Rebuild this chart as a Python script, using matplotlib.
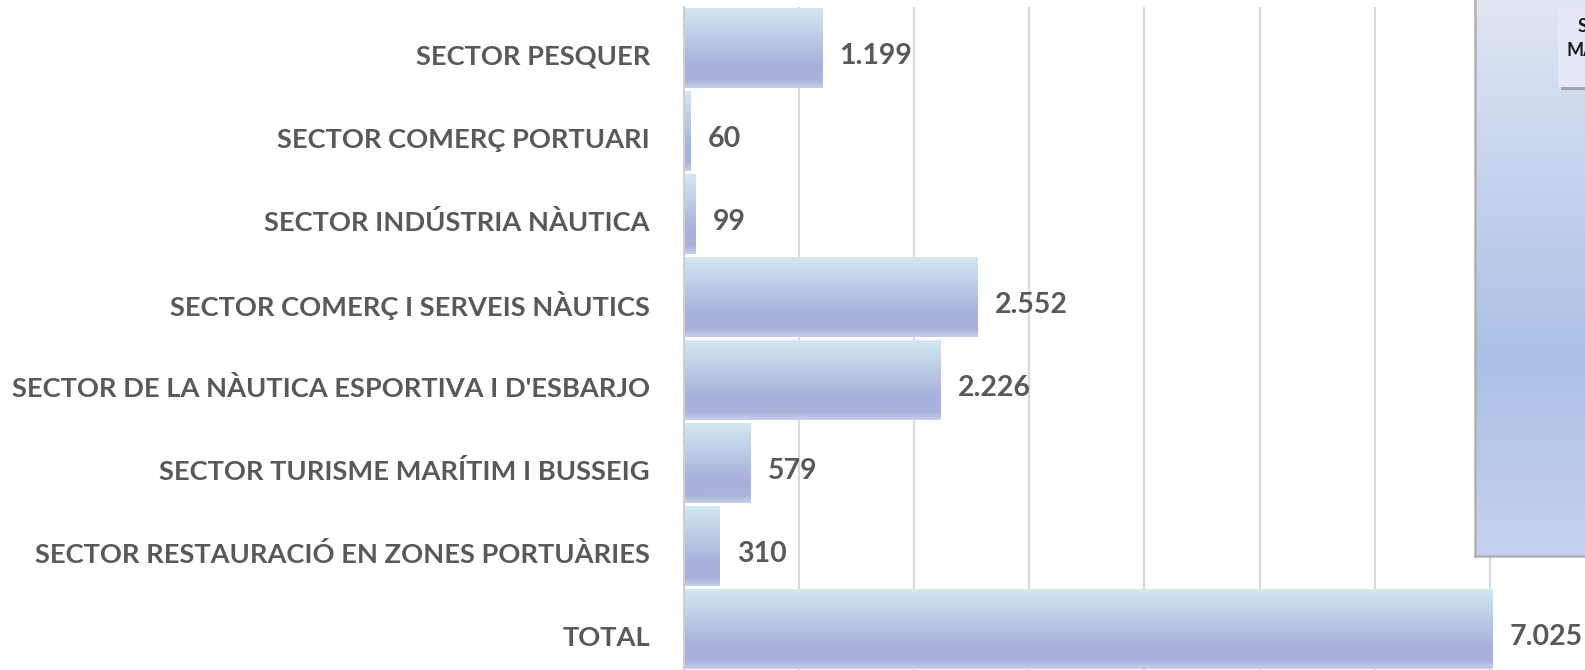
import numpy as np
import matplotlib
matplotlib.use("Agg")
from matplotlib import pyplot as plt
from matplotlib.colors import LinearSegmentedColormap
from matplotlib.patches import Rectangle
from matplotlib.transforms import ScaledTranslation

categories = [
    "SECTOR PESQUER",
    "SECTOR COMERÇ PORTUARI",
    "SECTOR INDÚSTRIA NÀUTICA",
    "SECTOR COMERÇ I SERVEIS NÀUTICS",
    "SECTOR DE LA NÀUTICA ESPORTIVA I D'ESBARJO",
    "SECTOR TURISME MARÍTIM I BUSSEIG",
    "SECTOR RESTAURACIÓ EN ZONES PORTUÀRIES",
    "TOTAL",
]
values = [1199, 60, 99, 2552, 2226, 579, 310, 7025]
value_labels = ["1.199", "60", "99", "2.552", "2.226", "579", "310", "7.025"]

text_color = "#595959"
font = "Lato"

bar_cmap = LinearSegmentedColormap.from_list(
    "bar", [(0, "#d3e9ef"), (0.72, "#a8b0dc"), (0.9, "#aab2dc"), (1, "#c8cfea")])
panel_cmap = LinearSegmentedColormap.from_list(
    "panel", [(0, "#dfe6f3"), (0.65, "#abbfe6"), (1, "#c6d1ef")])


def main():
    fig = plt.figure(figsize=(15.85, 6.70), dpi=100)
    ax = fig.add_axes([684 / 1585, 0, 901 / 1585, 663.5 / 670])

    y = np.arange(len(categories))
    bars = ax.barh(y, values, height=0.965, color="none", zorder=2)
    ax.set_ylim(len(categories) - 0.5, -0.5)
    ax.set_xlim(0, 901 / 115.1 * 1000)

    # gradient fill clipped to each bar
    grad = np.linspace(0, 1, 256).reshape(-1, 1)
    for b in bars:
        x0, y0 = b.get_x(), b.get_y()
        w, h = b.get_width(), b.get_height()
        im = ax.imshow(grad, cmap=bar_cmap, aspect="auto",
                       extent=(x0, x0 + w, y0 + h, y0), zorder=2)
        im.set_clip_path(b)

    for i, (v, lab) in enumerate(zip(values, value_labels)):
        ax.text(v + 150, i + 0.1, lab, ha="left", va="center",
                fontsize=20.5, fontweight="bold", color=text_color,
                family=font, zorder=4)

    ax.set_xticks(np.arange(0, 8000, 1000))
    ax.xaxis.grid(True, color="#d9d9d9", linewidth=1.5, zorder=0)
    ax.set_axisbelow(True)
    ax.tick_params(left=False, bottom=False, labelbottom=False)
    ax.set_yticks(y)
    ax.set_yticklabels(categories, fontsize=19.6, fontweight="bold",
                       color=text_color, family=font)
    ax.tick_params(axis="y", pad=21)
    # category labels sit a little below the bar centre
    shift = ScaledTranslation(0, -0.07, fig.dpi_scale_trans)
    for lbl in ax.get_yticklabels():
        lbl.set_transform(lbl.get_transform() + shift)
    for s in ["top", "right", "bottom"]:
        ax.spines[s].set_visible(False)
    ax.spines["left"].set_color("#d0d0d0")
    ax.spines["left"].set_linewidth(1.5)

    # side panel (cut off at the right edge)
    pax = fig.add_axes([1475 / 1585, 1 - 556 / 670, 120 / 1585, 556 / 670])
    pax.imshow(grad, cmap=panel_cmap, aspect="auto", extent=(0, 1, 0, 1))
    pax.set_xlim(0, 1)
    pax.set_ylim(0, 1)
    pax.set_xticks([])
    pax.set_yticks([])
    pax.spines["top"].set_visible(False)
    for s in pax.spines.values():
        s.set_color("#b0b0b0")
        s.set_linewidth(1.8)
    pax.set_zorder(5)

    # small text box inside the panel, with a shadow
    fig.patches.append(Rectangle((1561 / 1585, 1 - 90 / 670), 40 / 1585, 80 / 670,
                                 transform=fig.transFigure, facecolor="#7a7a7a",
                                 alpha=0.55, edgecolor="none", zorder=6))
    fig.patches.append(Rectangle((1558 / 1585, 1 - 87 / 670), 40 / 1585, 79 / 670,
                                 transform=fig.transFigure, facecolor="#e4e9f5",
                                 edgecolor="none", zorder=7))
    fig.text(1578 / 1585, 1 - 27 / 670, "S", fontsize=13, fontweight="bold",
             color="#1a1a1a", family=font, ha="left", va="center", zorder=8)
    fig.text(1567 / 1585, 1 - 50 / 670, "MA", fontsize=13, fontweight="bold",
             color="#1a1a1a", family=font, ha="left", va="center", zorder=8)

    fig.savefig("out.png", dpi=100)


if __name__ == "__main__":
    main()
